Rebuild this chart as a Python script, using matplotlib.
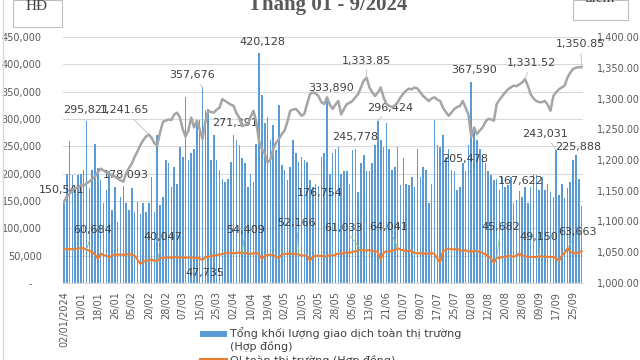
import matplotlib
matplotlib.use('Agg')
import matplotlib.pyplot as plt
from matplotlib.patches import Rectangle
from matplotlib.lines import Line2D
from matplotlib.ticker import FuncFormatter
import numpy as np

plt.rcParams['font.family'] = ['DejaVu Sans']

# Tổng khối lượng giao dịch (hợp đồng), mỗi phiên 02/01 -> 30/09/2024
volume = [
    150541, 200000, 260000, 197000, 176000, 197000, 200000, 206000, 295821, 173000,
    206000, 254000, 210000, 188000, 146000, 170000, 204000, 133000, 176000, 112000,
    158000, 178093, 146000, 133000, 173000, 130000, 149000, 127000, 146000, 130000,
    146000, 194000, 130000, 271000, 143000, 158000, 225000, 219000, 176000, 213000,
    182000, 249000, 231000, 341000, 225000, 237000, 246000, 298000, 298000, 357676,
    316000, 319000, 225000, 271000, 225000, 206000, 191000, 185000, 191000, 222000,
    271391, 262000, 252000, 228000, 219000, 176000, 200000, 185000, 255000, 420128,
    344000, 292000, 304000, 262000, 289000, 243000, 325000, 216000, 206000, 188000,
    213000, 262000, 237000, 222000, 231000, 225000, 222000, 188000, 176000, 182000,
    176754, 231000, 237000, 333890, 200000, 237000, 246000, 249000, 200000, 204000,
    204000, 182000, 243000, 245778, 167000, 219000, 234000, 204000, 204000, 219000,
    252000, 296424, 262000, 249000, 293000, 246000, 206000, 213000, 249000, 179000,
    228000, 182000, 179000, 194000, 176000, 246000, 194000, 213000, 206000, 146000,
    182000, 298000, 252000, 249000, 271000, 231000, 246000, 206000, 204000, 170000,
    176000, 219000, 205478, 252000, 367590, 283000, 262000, 246000, 231000, 219000,
    204000, 197000, 188000, 191000, 170000, 194000, 176000, 179000, 194000, 146000,
    152000, 167622, 158000, 176000, 146000, 176000, 200000, 197000, 170000, 194000,
    170000, 182000, 167000, 158000, 243031, 161000, 182000, 155000, 173000, 185000,
    225888, 234000, 191000, 140000,
]

# OI toàn thị trường (hợp đồng)
oi = [
    62000, 61500, 62500, 61000, 62500, 63000, 64000, 63500, 60684, 59000,
    57000, 52000, 44000, 54000, 51000, 50000, 47000, 50000, 52000, 51500,
    52500, 51000, 52000, 53000, 52000, 50000, 43000, 35000, 39000, 40000,
    42000, 43000, 40500, 40047, 45000, 46000, 46500, 47000, 46000, 47500,
    47000, 46500, 47000, 46000, 46500, 47000, 46000, 46500, 45000, 42000,
    47735, 48000, 49000, 50000, 51000, 52000, 53000, 54500, 55000, 55500,
    54000, 55000, 56000, 54409, 55500, 54000, 53000, 54500, 55000, 52000,
    44000, 50000, 51000, 52000, 50500, 48000, 46000, 52000, 53000, 53500,
    54000, 53000, 53500, 52166, 50000, 50500, 49000, 41000, 48000, 50000,
    49500, 50000, 48500, 49000, 51000, 50000, 52000, 54000, 53000, 55000,
    56000, 55000, 57000, 58000, 59000, 61033, 60000, 59000, 60500, 59000,
    58000, 57000, 43000, 55000, 58000, 57500, 59000, 60000, 64041, 61000,
    60000, 58000, 59500, 58000, 55000, 54000, 55000, 53000, 54500, 53000,
    55000, 53000, 44000, 38000, 58000, 61000, 63000, 62000, 61000, 62500,
    60000, 59000, 60000, 58000, 57000, 58500, 58000, 57000, 55000, 52000,
    49000, 45000, 37000, 45682, 46000, 48000, 47000, 50000, 49000, 48000,
    50000, 54000, 50000, 49000, 48000, 47500, 48000, 47000, 49150, 48000,
    48500, 47500, 48000, 47000, 46000, 40000, 50000, 55000, 63663, 57000,
    55000, 54000, 56000, 58000,
]

# VN30 (điểm)
index_pts = [
    1132, 1140, 1145, 1151, 1154, 1156, 1159, 1158, 1162, 1165,
    1169, 1173, 1180, 1186, 1183, 1180, 1178, 1175, 1173, 1170,
    1167, 1165, 1178, 1187, 1194, 1205, 1214, 1224, 1232, 1238,
    1241.65, 1236, 1227, 1224, 1245, 1262, 1264, 1266, 1265, 1274,
    1277, 1269, 1250, 1238, 1248, 1269, 1253, 1264, 1250, 1234,
    1262, 1280, 1278, 1277, 1282, 1285, 1299, 1296, 1293, 1290,
    1288, 1276, 1269, 1255, 1257, 1258, 1270, 1280, 1262, 1229,
    1218, 1210, 1196, 1201, 1218, 1228, 1234, 1242, 1248, 1262,
    1280, 1282, 1283, 1278, 1272, 1275, 1292, 1307, 1310, 1308,
    1304, 1294, 1291, 1302, 1290, 1283, 1290, 1296, 1274, 1283,
    1291, 1293, 1296, 1302, 1307, 1318, 1329, 1333.85, 1318, 1310,
    1304, 1310, 1318, 1302, 1291, 1288, 1286, 1288, 1294, 1302,
    1308, 1313, 1316, 1315, 1318, 1316, 1310, 1304, 1300, 1296,
    1300, 1302, 1298, 1296, 1285, 1278, 1272, 1277, 1283, 1286,
    1288, 1296, 1285, 1274, 1237, 1253, 1242, 1248, 1253, 1262,
    1267, 1266, 1264, 1291, 1298, 1304, 1310, 1315, 1318, 1321,
    1320, 1323, 1326, 1331.52, 1321, 1307, 1300, 1296, 1294, 1294,
    1296, 1290, 1280, 1304, 1310, 1315, 1318, 1321, 1334, 1342,
    1348, 1350, 1351, 1350.85,
]

tick_labels = [
    '02/01/2024', '10/01', '18/01', '26/01', '05/02', '20/02', '28/02', '07/03',
    '15/03', '25/03', '02/04', '10/04', '19/04', '02/05', '10/05', '20/05',
    '28/05', '05/06', '13/06', '21/06', '01/07', '09/07', '17/07', '25/07',
    '02/08', '12/08', '20/08', '28/08', '09/09', '17/09', '25/09',
]

# nhãn dữ liệu: (phiên, dx, dy) lệch theo pixel
vol_labels = [(0, -2, 11), (8, 0, 11), (21, 2, 11), (49, -10, 12), (60, 1, 12),
              (69, 3, 11), (90, 1, -7), (93, 4, 12), (103, 0, 12), (111, 12, 13),
              (142, 0, 12), (144, 3, 12), (161, 1, 10), (174, -11, 16), (180, 5, 13)]
oi_labels = [(8, 6, 20), (33, 6, 24), (50, 0, -16), (63, 3, 23), (83, -2, 31),
             (105, -17, 22), (118, -9, 21), (153, 4, 31), (168, 0, 19), (178, 10, 16)]
idx_labels = [(30, -24, 24), (107, 0, 17), (163, 6, 16), (183, -1, 23)]

W, H = 640, 360
def fx(x):
    return x / W
def fy(y):
    return 1 - y / H

fig = plt.figure(figsize=(6.4, 3.6), dpi=100)
ax = fig.add_axes([fx(62.5), fy(283), fx(583) - fx(62.5), fy(37) - fy(283)])
ax2 = ax.twinx()

x = np.arange(len(volume))
ax.bar(x, volume, width=0.55, color='#5b9bd5', linewidth=0, zorder=2)
ax.plot(x, oi, color='#ed7d31', lw=1.5, zorder=3)
ax2.plot(x, index_pts, color='#a5a5a5', lw=1.8, zorder=3)

ax.set_xlim(-0.5, len(volume) - 0.5)
ax.set_ylim(0, 450000)
ax2.set_ylim(1000, 1400)
ax.set_yticks(np.arange(0, 450001, 50000))
ax2.set_yticks(np.arange(1000, 1401, 50))
ax.yaxis.set_major_formatter(FuncFormatter(lambda v, p: '-   ' if v == 0 else f'{v:,.0f}'))
ax2.yaxis.set_major_formatter(FuncFormatter(lambda v, p: f'{v:,.2f}'))
ax.set_xticks(x[::6])
ax.set_xticklabels(tick_labels, rotation=90)

ax.grid(axis='y', color='#d9d9d9', lw=0.8, zorder=0)
ax.set_axisbelow(True)
for a in (ax, ax2):
    for s in a.spines.values():
        s.set_visible(False)
ax.spines['bottom'].set_visible(True)
ax.spines['bottom'].set_color('#d9d9d9')
ax.tick_params(axis='both', length=0, labelsize=7, labelcolor='#595959')
ax.tick_params(axis='y', pad=15)
ax.tick_params(axis='x', pad=6)
ax2.tick_params(axis='y', length=0, labelsize=7, labelcolor='#595959', pad=10)

def put_labels(a, series, labels, fmt, lead_color):
    for i, dx, dy in labels:
        v = series[i]
        a.annotate(fmt(v), xy=(i, v), xytext=(dx, dy), textcoords='offset pixels',
                   ha='center', va='center', fontsize=8, color='#404040', zorder=6,
                   arrowprops=dict(arrowstyle='-', color=lead_color, lw=0.6,
                                   shrinkA=1, shrinkB=0)
                   if np.hypot(dx, dy) > 15 else None)

put_labels(ax, volume, vol_labels, lambda v: f'{v:,.0f}', '#bfbfbf')
put_labels(ax, oi, oi_labels, lambda v: f'{v:,.0f}', '#8cc084')
put_labels(ax2, index_pts, idx_labels, lambda v: f'{v:,.2f}', '#bfbfbf')

# tiêu đề và hộp đơn vị (bị cắt ở mép trên)
fig.text(fx(328), fy(10), 'Tháng 01 - 9/2024', ha='center', va='baseline',
         fontsize=15, fontweight='bold', color='#595959', family='Liberation Serif')
fig.add_artist(Rectangle((fx(13), fy(27)), fx(49), 27 / H, transform=fig.transFigure,
                         facecolor='white', edgecolor='#bfbfbf', lw=0.8))
fig.text(fx(37), fy(10), 'HĐ', ha='center', va='baseline', fontsize=11,
         color='#404040', family='Liberation Serif')
fig.add_artist(Rectangle((fx(573), fy(20)), fx(55), 20 / H, transform=fig.transFigure,
                         facecolor='white', edgecolor='#bfbfbf', lw=0.8))
fig.text(fx(600), fy(2), 'điểm', ha='center', va='baseline', fontsize=11,
         color='#404040', family='Liberation Serif')
fig.add_artist(Line2D([fx(3), fx(3)], [0, 1], transform=fig.transFigure,
                      color='#d9d9d9', lw=1))

# chú thích ở đáy (bị cắt ở mép dưới)
fig.add_artist(Rectangle((fx(200), fy(337)), fx(27), 6 / H, transform=fig.transFigure,
                         facecolor='#5b9bd5', edgecolor='none'))
fig.text(fx(230), fy(327), 'Tổng khối lượng giao dịch toàn thị trường\n(Hợp đồng)',
         ha='left', va='top', fontsize=8, color='#404040', linespacing=1.2)
fig.add_artist(Line2D([fx(200), fx(227)], [fy(359), fy(359)], transform=fig.transFigure,
                      color='#ed7d31', lw=1.5))
fig.text(fx(230), fy(355), 'OI toàn thị trường (Hợp đồng)', ha='left', va='top',
         fontsize=8, color='#404040')

fig.savefig('out.png', dpi=100)
plt.close(fig)
